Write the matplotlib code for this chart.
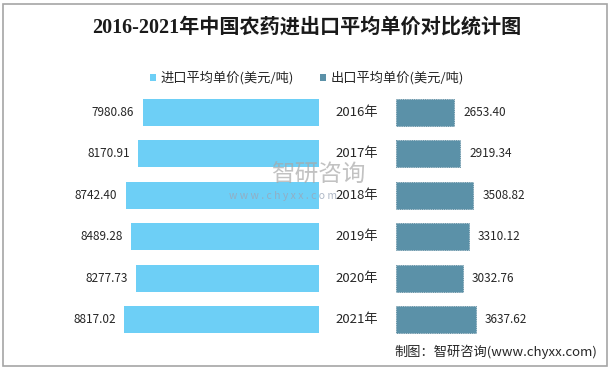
import matplotlib
matplotlib.use("Agg")
import matplotlib.pyplot as plt
from matplotlib.patches import Patch, Rectangle
from matplotlib.transforms import blended_transform_factory

plt.rcParams['font.family'] = ['Noto Sans CJK SC', 'DejaVu Sans']

years = ["2016年", "2017年", "2018年", "2019年", "2020年", "2021年"]
import_price = [7980.86, 8170.91, 8742.40, 8489.28, 8277.73, 8817.02]
export_price = [2653.40, 2919.34, 3508.82, 3310.12, 3032.76, 3637.62]
series_names = ["进口平均单价(美元/吨)", "出口平均单价(美元/吨)"]

W, H = 613, 371
c_import = "#6DCFF6"
c_export = "#5B91A8"
txt = "#262626"


def px_box(x0, y0, x1, y1):
    # pixel box (top-left origin) -> figure fraction
    return [x0 / W, 1 - y1 / H, (x1 - x0) / W, (y1 - y0) / H]


fig = plt.figure(figsize=(W / 100, H / 100), dpi=100)
fig.patch.set_facecolor("white")

ax_l = fig.add_axes(px_box(100, 91.8, 319, 340.2))
ax_r = fig.add_axes(px_box(396, 91.8, 560, 340.2))

rows = range(len(years))
ax_l.barh(rows, import_price, height=0.65, color=c_import)
ax_r.barh(rows, export_price, height=0.65, color=c_export,
          edgecolor="#4E7F95", linewidth=0.6, linestyle=":")

ax_l.set_xlim(219 / 0.0221, 0)
ax_r.set_xlim(0, 164 / 0.0220)
for ax in (ax_l, ax_r):
    ax.set_ylim(len(years) - 0.5, -0.5)
    ax.axis("off")

for i, v in enumerate(import_price):
    ax_l.annotate(f"{v:.2f}", (v, i), xytext=(-6, 0), textcoords="offset points",
                  ha="right", va="center", fontsize=8.5, color=txt)
for i, v in enumerate(export_price):
    ax_r.annotate(f"{v:.2f}", (v, i), xytext=(6.5, 0), textcoords="offset points",
                  ha="left", va="center", fontsize=8.5, color=txt)

tr = blended_transform_factory(fig.transFigure, ax_r.transData)
for i, y in enumerate(years):
    ax_r.text(357 / W, i, y, transform=tr, ha="center", va="center",
              fontsize=9.5, color=txt, clip_on=False)

fig.text(307 / W, 1 - 28 / H, "2016-2021年中国农药进出口平均单价对比统计图",
         ha="center", va="center", fontsize=14.5, fontweight="bold", color="#1a1a1a",
         family=["Liberation Serif", "Noto Sans CJK SC"])

handles = [Patch(facecolor=c_import), Patch(facecolor=c_export)]
fig.legend(handles, series_names, loc="center", bbox_to_anchor=(307 / W, 1 - 78 / H),
           ncol=2, frameon=False, handlelength=0.45, handleheight=0.45,
           handletextpad=0.35, columnspacing=2.0, prop={"size": 9.5},
           labelcolor=txt)

# watermark
fig.text(318 / W, 1 - 175 / H, "智研咨询", ha="center", va="center",
         fontsize=17, color="#a8a8a8", alpha=0.7)
fig.text(283 / W, 1 - 196 / H, "w w w . c h y x x . c o m", ha="center", va="center",
         fontsize=7.5, color="#9aa6b8", alpha=0.8)

fig.text(597 / W, 1 - 352 / H, "制图：智研咨询(www.chyxx.com)", ha="right", va="center",
         fontsize=9.5, color=txt)

fig.add_artist(Rectangle((3 / W, 1 - 366 / H), 604 / W, 362 / H, transform=fig.transFigure,
                         fill=False, edgecolor="#A6A6A6", linewidth=1.2))

fig.savefig("out.png", dpi=100)
